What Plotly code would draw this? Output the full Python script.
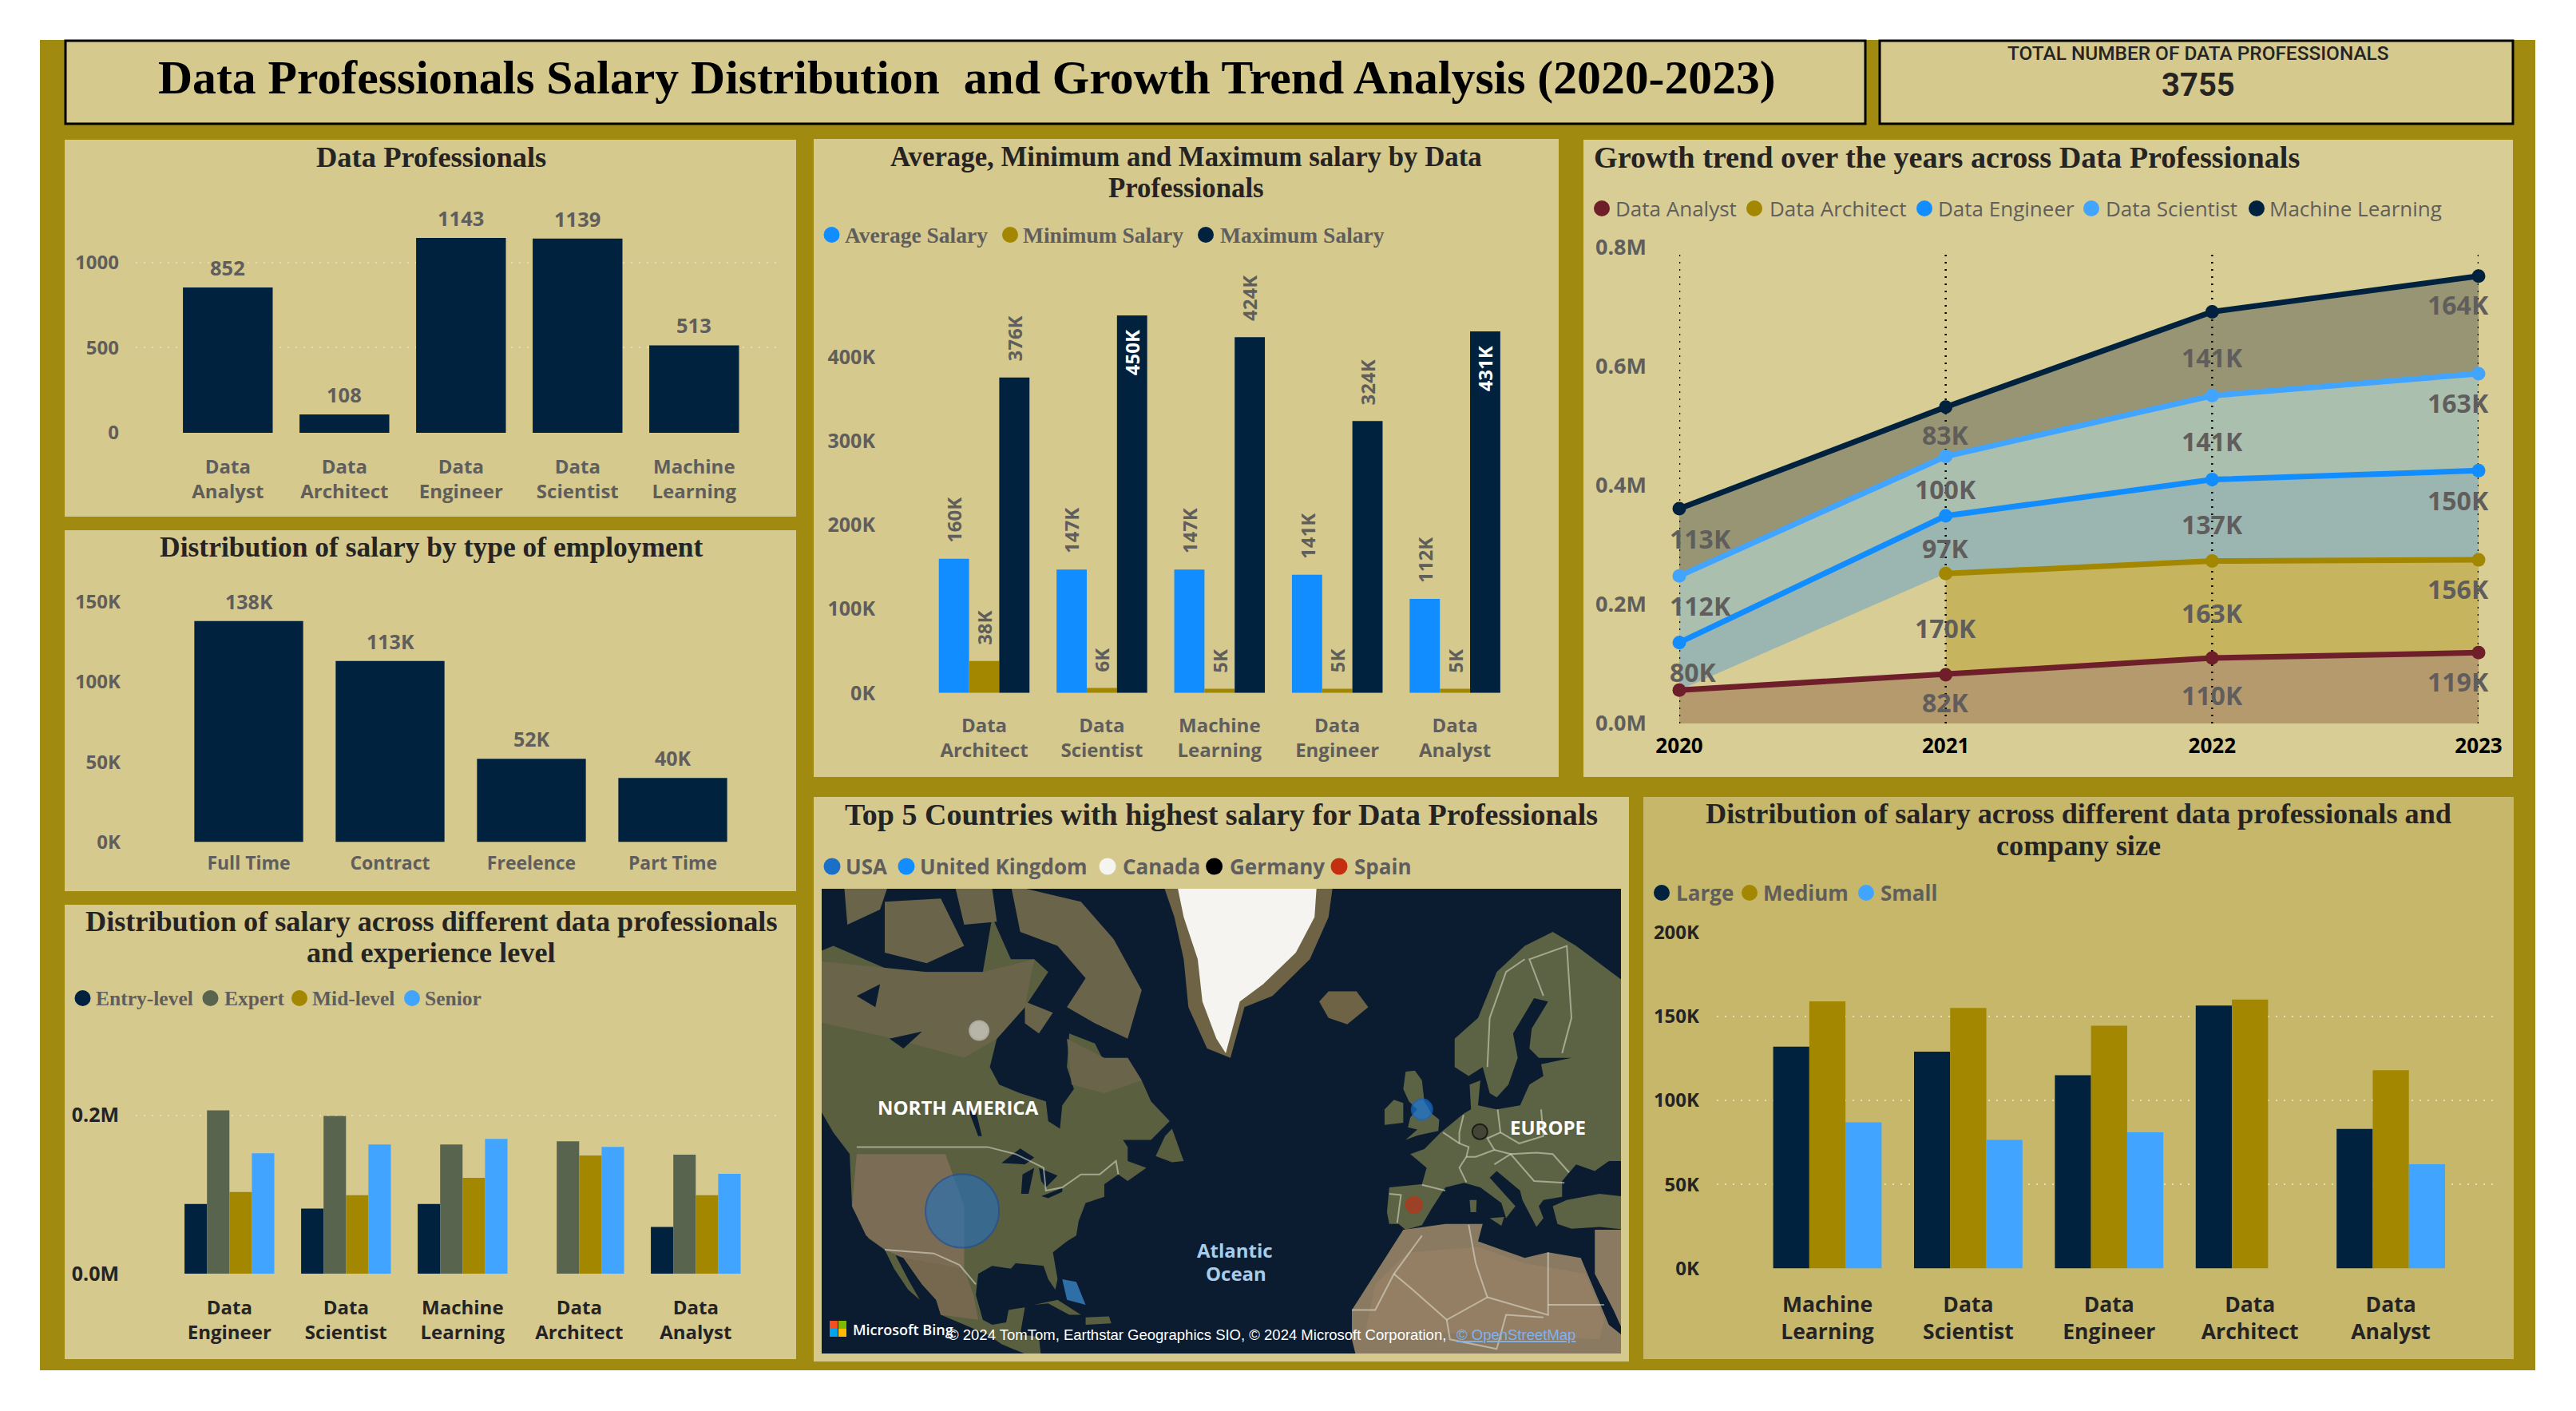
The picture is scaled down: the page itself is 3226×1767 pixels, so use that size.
import numpy as np
import plotly.graph_objects as go

W, H = 3226, 1767

# --- data ---
TITLE = "Data Professionals Salary Distribution  and Growth Trend Analysis (2020-2023)"
TOTAL_PROFESSIONALS = "3755"

ROLE_ORDER_1 = ["Data<br>Analyst", "Data<br>Architect", "Data<br>Engineer", "Data<br>Scientist", "Machine<br>Learning"]
ROLE_COUNTS = [852, 108, 1143, 1139, 513]

EMPLOYMENT = ["Full Time", "Contract", "Freelence", "Part Time"]
EMPLOYMENT_SALARY = [138000, 113000, 52000, 40000]

ROLE_ORDER_3 = ["Data<br>Engineer", "Data<br>Scientist", "Machine<br>Learning", "Data<br>Architect", "Data<br>Analyst"]
ENTRY_LEVEL = [88000, 82000, 88000, None, 59000]
EXPERT = [206000, 199000, 163000, 167000, 150000]
MID_LEVEL = [103000, 99000, 121000, 149000, 99000]
SENIOR = [152000, 163000, 170000, 160000, 126000]

ROLE_ORDER_4 = ["Data<br>Architect", "Data<br>Scientist", "Machine<br>Learning", "Data<br>Engineer", "Data<br>Analyst"]
AVG_SALARY = [160000, 147000, 147000, 141000, 112000]
MIN_SALARY = [38000, 6000, 5000, 5000, 5000]
MAX_SALARY = [376000, 450000, 424000, 324000, 431000]

YEARS = [2020, 2021, 2022, 2023]
GROWTH_ANALYST = [56000, 82000, 110000, 119000]
GROWTH_ARCHITECT = [None, 170000, 163000, 156000]
GROWTH_ENGINEER = [80000, 97000, 137000, 150000]
GROWTH_SCIENTIST = [112000, 100000, 141000, 163000]
GROWTH_ML = [113000, 83000, 141000, 164000]

ROLE_ORDER_7 = ["Machine<br>Learning", "Data<br>Scientist", "Data<br>Engineer", "Data<br>Architect", "Data<br>Analyst"]
LARGE = [132000, 129000, 115000, 156500, 83000]
MEDIUM = [159000, 155000, 144500, 160000, 118000]
SMALL = [87000, 76500, 81000, None, 62000]

COUNTRIES = ["USA", "United Kingdom", "Canada", "Germany", "Spain"]
COUNTRY_LON = [-100.4, -2.0, -96.8, 10.4, -3.7]
COUNTRY_LAT = [39.2, 54.0, 62.8, 51.1, 40.2]

# rough coastlines for the map backdrop, (lon, lat)
LAND_NORTH_AMERICA = [(-135, 69), (-128, 70), (-115, 68), (-108, 68), (-96, 68), (-94, 72), (-90, 69), (-85, 69),
                      (-82, 68), (-87, 65), (-93, 62), (-94.5, 59), (-92.5, 57), (-88, 56), (-82.5, 55), (-82, 52.5),
                      (-79.5, 51.5), (-79, 54.5), (-76.5, 56.5), (-78, 59), (-77.5, 62.5), (-72, 61.5), (-69, 58.5),
                      (-65, 60), (-62, 57.5), (-60, 55), (-56, 52.5), (-60, 50), (-66, 50), (-65, 49), (-65, 47),
                      (-61, 46), (-65, 44), (-67, 45), (-70, 43.5), (-70, 41.5), (-74, 40.5), (-75.5, 37.5), (-76, 35),
                      (-78, 34), (-81, 32), (-80, 27), (-80.5, 25), (-82, 27), (-83, 29.5), (-85, 29.7), (-89, 30),
                      (-90, 29), (-94, 29.5), (-97, 28), (-97.5, 24), (-96, 19), (-94, 18), (-91, 18.5), (-90.5, 21),
                      (-87, 21.5), (-88, 16), (-84, 15.5), (-83.5, 11), (-87, 11), (-87, 12), (-92, 14), (-95, 16),
                      (-105, 20), (-106, 23), (-109, 26), (-113, 31), (-114.7, 31.5), (-112, 27), (-109.5, 23),
                      (-112, 25), (-115, 29), (-117, 32.5), (-120.5, 34.5), (-124, 40), (-124.5, 48), (-128, 51),
                      (-135, 58)]
LAND_BAFFIN = [(-90, 74), (-75, 73), (-68, 70.5), (-62, 66.5), (-65, 62), (-72, 63.5), (-78, 65), (-74, 67.5), (-80, 70),
               (-88, 71)]
LAND_VICTORIA = [(-117, 73), (-105, 73.2), (-100, 70), (-108, 68.7), (-117, 69.5)]
LAND_BANKS = [(-126, 75), (-115, 75), (-118, 72.5), (-125, 71.5)]
LAND_PRINCE_WALES = [(-102, 74), (-94, 73.8), (-93, 71.7), (-100, 71.5)]
LAND_DEVON = [(-96, 76), (-80, 76), (-80, 74.8), (-92, 74.7)]
LAND_SOUTHAMPTON = [(-87, 65.5), (-81, 64.5), (-84, 62.5), (-87, 63.5)]
LAND_NEWFOUNDLAND = [(-59, 47.7), (-57, 50.5), (-55.5, 51.5), (-53, 47), (-55.5, 46.8)]
LAND_CUBA = [(-85, 22), (-80, 23), (-75, 20), (-77.5, 20), (-82, 22.3)]
LAND_HISPANIOLA = [(-74, 19.5), (-69, 19.7), (-68.5, 18.3), (-74, 18)]
SHALLOW_BAHAMAS = [(-79, 27), (-76, 26.5), (-74, 22), (-78, 23)]
LAND_GREENLAND = [(-60, 76), (-20, 76), (-22, 72), (-26, 69), (-34, 66), (-40, 65), (-43, 60), (-48, 61), (-52, 65),
                  (-53, 69), (-55, 72)]
ICE_GREENLAND = [(-56, 76), (-24, 76), (-25, 72), (-29, 69.5), (-36, 67), (-41, 65.5), (-44, 60.5), (-46, 62), (-49, 65.5),
                 (-50, 69), (-53, 72)]
LAND_ICELAND = [(-24, 65.5), (-22, 66.4), (-16, 66.4), (-13.5, 65), (-18, 63.4), (-22, 64)]
LAND_IRELAND = [(-10, 52), (-10, 54), (-8, 55.2), (-6, 54.8), (-6, 52.3)]
LAND_BRITAIN = [(-5.5, 50), (-3, 50.6), (1.5, 51.2), (1.7, 52.7), (0, 53.5), (-1.5, 55), (-2, 57.5), (-3.5, 58.6),
                (-5.5, 58.5), (-6, 56.5), (-4.8, 55), (-3, 54), (-4.5, 53), (-5, 51.7), (-3, 51.4)]
LAND_EUROPE = [(-9, 37), (-9.5, 39), (-9, 43), (-2, 43.5), (-1, 46), (-4.5, 48), (-1.5, 48.7), (2, 51), (4, 52), (7, 53.5),
               (8.5, 54), (8.2, 57), (10.5, 57.5), (10, 54.5), (14, 54), (19, 54.5), (21, 57), (24, 58), (23.5, 59.3),
               (30, 60), (23, 60), (21, 61), (21.5, 63), (25, 65.5), (22, 65.8), (17.5, 62.5), (18.5, 60), (16.5, 57),
               (14, 55.5), (12.5, 56), (11, 59), (8, 58), (5, 59), (5, 62), (10, 64), (14, 68), (20, 70), (26, 71),
               (31, 70), (42, 67), (42, 47), (38, 47), (35, 45.5), (31, 46.5), (28, 44), (28, 41.5), (24, 41), (23, 40),
               (24, 38), (22.5, 36.5), (19.5, 41), (19, 42.5), (14, 45.5), (12.5, 44.5), (18, 40), (16, 38), (15, 40.5),
               (10.5, 43), (7, 43.7), (3, 43), (0, 39.5), (-2, 36.8), (-5.5, 36), (-7, 37)]
LAND_ANATOLIA = [(26, 40), (29, 41), (36, 42), (42, 41.5), (42, 36), (36, 36.5), (30, 36.2), (27, 37)]
LAND_SARDINIA = [(8.2, 41), (9.7, 41), (9.6, 39), (8.4, 39)]
LAND_SICILY = [(12.5, 38), (15.6, 38.2), (15, 36.7)]
LAND_AFRICA = [(-6, 36), (-17, 21), (-17, 15), (-16, 11), (42, 11), (42, 15), (38, 18), (34, 27), (32.5, 30), (32, 31),
               (25, 32), (20, 31), (15, 32.5), (10, 34), (11, 37), (3, 37)]
LAND_ARABIA = [(43, 12.5), (39, 21), (35, 28), (35, 36), (42, 36), (42, 13)]
DRY_US_WEST = [(-123, 48), (-104, 48), (-100, 40), (-100, 29), (-106, 23), (-113, 31), (-117, 32.5), (-121, 35), (-124, 40)]
DRY_MEXICO = [(-113, 31), (-100, 29), (-98, 24), (-97, 19), (-105, 20), (-106, 23), (-109, 26)]
TUNDRA_CANADA = [(-135, 69), (-108, 68), (-96, 68), (-85, 69), (-87, 65), (-93, 62), (-100, 60), (-115, 62), (-135, 64)]
TUNDRA_QUEBEC = [(-78, 62), (-70, 60), (-65, 60), (-62, 57.5), (-70, 56), (-77, 57)]
SAHARA = [(-12, 26), (-5, 32), (10, 33), (20, 30), (33, 28), (37, 19), (36, 15), (10, 16), (-14, 17)]
LAKE_SUPERIOR = [(-92, 46.7), (-88, 48.8), (-85, 47.5), (-87, 46.5)]
LAKE_MICHIGAN = [(-87.8, 42), (-87.5, 45), (-85, 46), (-86.2, 42)]
LAKE_HURON = [(-84, 46), (-80, 44.8), (-82.5, 43), (-83.5, 44)]
LAKE_ERIE = [(-83.5, 41.6), (-79, 42.9), (-79, 42.3), (-82, 41.3)]
LAKE_WINNIPEG = [(-99, 53.8), (-97.5, 53.8), (-96.2, 50.5), (-97, 50.5)]
LAKE_BEAR = [(-123, 66), (-118, 67), (-119, 65)]
LAKE_SLAVE = [(-116, 62), (-109, 62.7), (-113, 61)]
BALTIC_GOTLAND = [(18, 57), (19, 57.8), (18.8, 57)]

# national borders that show up as pale lines on the satellite map
BORDERS = [
    [(-123, 49), (-95, 49), (-89, 48), (-83, 46), (-82.5, 42.5), (-79, 43), (-75, 45), (-71, 45), (-67.5, 47), (-67, 45)],
    [(-117, 32.5), (-106.5, 31.8), (-101, 29.7), (-97.5, 26)],
    [(-2, 43.4), (3, 42.5)],
    [(-9, 42), (-6.5, 41.8), (-7.3, 37.2)],
    [(2.5, 51), (6, 49.5), (8, 49), (7.5, 47.6), (6, 46), (7.5, 43.8)],
    [(6.9, 53.3), (6, 51), (6, 49.5)],
    [(14.2, 54), (14.8, 51), (12, 50.2), (13.5, 48.6), (9.5, 47.6), (7.5, 47.6)],
    [(14.8, 51), (18.8, 49.5), (24, 50.5), (23.5, 54)],
    [(13.5, 48.6), (17, 48), (22.5, 48.2), (26, 48), (29.5, 45.3)],
    [(13.5, 46.5), (17, 48), (22, 44), (28.5, 43.7)],
    [(12, 59), (12.5, 64), (16, 68), (20, 69)],
    [(24, 66), (21, 69), (29, 70), (30, 64), (28, 60.5)],
    [(-2, 35), (-8, 28), (-12, 21), (-17, 21)],
    [(-8, 28), (-4, 25), (3.3, 19), (12, 23.5), (9.5, 30), (8, 36.9)],
    [(12, 23.5), (25, 20), (25, 32)],
    [(25, 22), (37, 22)],
    [(3.3, 19), (4, 15), (14, 13), (16, 20), (24, 19.5)],
]

# axis labels
TICKS_COUNT = [0, 500, 1000]
TICKS_EMPLOYMENT = [0, 50000, 100000, 150000]
TICKS_EXPERIENCE = [0, 200000]
TICKS_AVG = [0, 100000, 200000, 300000, 400000]
TICKS_GROWTH = [0, 200000, 400000, 600000, 800000]
TICKS_COMPANY = [0, 50000, 100000, 150000, 200000]

# --- colours ---
GOLD_BG = "#A08A10"
PANEL = "#D5C98E"
PANEL_GROWTH = "#D8CD94"
PANEL_COMPANY = "#C6B76B"
NAVY = "#01223F"
OLIVE = "#A38700"
BLUE = "#118DFF"
SKY = "#41A4FF"
SLATE = "#59644E"
MAROON = "#6E1F2A"
GREY = "#605E5C"
INK = "#252423"

SERIF = "Liberation Serif"
SANS = "Open Sans"
ROBOTO = "Roboto"
ARIAL = "Liberation Sans"

fig = go.Figure()
shapes = []
notes = []


def fx(px):
    return px / W


def fy(px):
    return 1 - px / H


def panel(x0, y0, x1, y1, color, border=None):
    shapes.append(dict(type="rect", xref="paper", yref="paper", x0=fx(x0), x1=fx(x1), y0=fy(y0), y1=fy(y1),
                       fillcolor=color, layer="below",
                       line=dict(color=border or color, width=3 if border else 0)))


def text(x, y, s, size, color=INK, family=SANS, weight=400, anchor="center"):
    notes.append(dict(xref="paper", yref="paper", x=fx(x), y=fy(y), text=s, showarrow=False, xanchor=anchor,
                      yanchor="middle", font=dict(size=size, color=color, family=family, weight=weight)))


def legend(y, circles, starts, names, colors, size, family, weight=700, r=10):
    for cx, start, name, color in zip(circles, starts, names, colors):
        shapes.append(dict(type="circle", xref="paper", yref="paper", x0=fx(cx - r), x1=fx(cx + r),
                           y0=fy(y + r), y1=fy(y - r), fillcolor=color, line_width=0))
        text(start, y, name, size, GREY, family, weight, anchor="left")


def axes(n, x0, x1, y_base, y_top, xrange, ymax, tickvals, ticktext, xvals=None, xtext=None, xsize=25, xcolor=GREY,
         ysize=25, ycolor=GREY, grid=False, xstand=20, ystand=20):
    fig.layout[f"xaxis{n}"] = dict(domain=[fx(x0), fx(x1)], range=xrange, anchor=f"y{n}", showgrid=False, zeroline=False,
                                   tickmode="array", tickvals=xvals, ticktext=xtext, ticks="", showline=False,
                                   ticklabelstandoff=xstand, automargin=False,
                                   tickfont=dict(size=xsize, color=xcolor, family=SANS, weight=700))
    fig.layout[f"yaxis{n}"] = dict(domain=[fy(y_base), fy(y_top)], range=[0, ymax], anchor=f"x{n}", zeroline=False,
                                   showgrid=grid, gridcolor="#E3DDB8", griddash="2px 8px", gridwidth=2, showline=False,
                                   tickmode="array", tickvals=tickvals, ticktext=ticktext, ticks="",
                                   ticklabelstandoff=ystand, automargin=False,
                                   tickfont=dict(size=ysize, color=ycolor, family=SANS, weight=700))


def cat_range(x0, x1, first, step):
    return [(x0 - first) / step, (x1 - first) / step]


def bars(n, values, color, name):
    fig.add_trace(go.Bar(x=list(range(len(values))), y=values, name=name, xaxis=f"x{n}", yaxis=f"y{n}",
                         marker=dict(color=color, line_width=0), hoverinfo="skip"))


def short(v):
    return f"{v / 1000:.0f}K"


def mercator(lat):
    return np.log(np.tan(np.pi / 4 + np.radians(np.asarray(lat, dtype=float)) / 2))


# --- dashboard frame ---
panel(50, 50, 3175, 1716, GOLD_BG)
panel(82, 51, 2336, 155, PANEL, "#000000")
panel(2354, 51, 3147, 155, PANEL, "#000000")
panel(81, 175, 997, 647, PANEL)
panel(81, 664, 997, 1116, PANEL)
panel(81, 1133, 997, 1702, PANEL)
panel(1019, 174, 1952, 973, PANEL)
panel(1983, 175, 3147, 973, PANEL_GROWTH)
panel(1019, 998, 2040, 1705, PANEL)
panel(2058, 998, 3148, 1702, PANEL_COMPANY)
panel(1029, 1113, 2030, 1695, "#0B1C30")

text(1211, 97, TITLE, 59.7, "#000000", SERIF, 700)
text(2753, 66, "TOTAL NUMBER OF DATA PROFESSIONALS", 24.4, INK, ROBOTO, 500)
text(2753, 106, TOTAL_PROFESSIONALS, 40, INK, ROBOTO, 700)

# --- panel 1: head count ---
text(540, 196, "Data Professionals", 36.5, INK, SERIF, 700)
axes(1, 170, 976, 542, 542 - 1200 * 0.2135, cat_range(170, 976, 287, 146), 1200,
     TICKS_COUNT, [str(t) for t in TICKS_COUNT], list(range(5)), ROLE_ORDER_1, grid=True, xstand=26, xsize=24, ysize=24)
bars(1, ROLE_COUNTS, NAVY, "Count")
fig.layout.xaxis1.range = cat_range(170, 976, 285.3, 146)
for i, v in enumerate(ROLE_COUNTS):
    notes.append(dict(xref="x1", yref="y1", x=i, y=v, yshift=25, text=str(v), showarrow=False, yanchor="middle",
                      font=dict(size=25.5, color=GREY, family=SANS, weight=700)))

# --- panel 2: employment type ---
text(540, 685, "Distribution of salary by type of employment", 35.5, INK, SERIF, 700)
axes(2, 160, 976, 1054.6, 1054.6 - 150 * 2.007, cat_range(160, 976, 311.5, 177), 150000,
     TICKS_EMPLOYMENT, [short(t) for t in TICKS_EMPLOYMENT], list(range(4)), EMPLOYMENT, xsize=23, ysize=24, xstand=10,
     ystand=8)
bars(2, EMPLOYMENT_SALARY, NAVY, "Salary")
for i, v in enumerate(EMPLOYMENT_SALARY):
    notes.append(dict(xref="x2", yref="y2", x=i, y=v, yshift=25, text=short(v), showarrow=False, yanchor="middle",
                      font=dict(size=25, color=GREY, family=SANS, weight=700)))

# --- panel 3: experience level ---
text(540, 1154, "Distribution of salary across different data professionals", 36.2, INK, SERIF, 700)
text(540, 1193, "and experience level", 36.2, INK, SERIF, 700)
legend(1250, [103.5, 263.5, 375, 516], [118, 278.5, 389, 530], ["Entry-level", "Expert", "Mid-level", "Senior"],
       [NAVY, SLATE, OLIVE, SKY], 25.5, SERIF)
axes(3, 170, 976, 1595, 1595 - 220 * 0.9925, cat_range(170, 976, 287.3, 146), 220000,
     TICKS_EXPERIENCE, [f"{t / 1e6:.1f}M" for t in TICKS_EXPERIENCE], list(range(5)), ROLE_ORDER_3,
     xcolor=INK, ycolor=INK, xsize=24, ysize=25, grid=True, xstand=26)
for values, color, name in zip([ENTRY_LEVEL, EXPERT, MID_LEVEL, SENIOR], [NAVY, SLATE, OLIVE, SKY],
                               ["Entry-level", "Expert", "Mid-level", "Senior"]):
    bars(3, values, color, name)

# --- panel 4: avg / min / max ---
text(1485, 196, "Average, Minimum and Maximum salary by Data", 34.8, INK, SERIF, 700)
text(1485, 235, "Professionals", 34.8, INK, SERIF, 700)
legend(294, [1041.5, 1265, 1510], [1056, 1279, 1526], ["Average Salary", "Minimum Salary", "Maximum Salary"],
       [BLUE, OLIVE, NAVY], 27.5, SERIF)
axes(4, 1110, 1935, 867.8, 867.8 - 480 * 1.0507, cat_range(1110, 1935, 1232.5, 147.4), 480000,
     TICKS_AVG, [short(t) for t in TICKS_AVG], list(range(5)), ROLE_ORDER_4, ystand=13, xstand=24, xsize=24, ysize=25)
group_w = (1 - 0.23) / 3
for j, (values, color, name) in enumerate(zip([AVG_SALARY, MIN_SALARY, MAX_SALARY], [BLUE, OLIVE, NAVY],
                                              ["Average Salary", "Minimum Salary", "Maximum Salary"])):
    bars(4, values, color, name)
    for i, v in enumerate(values):
        inside = v >= 430000
        notes.append(dict(xref="x4", yref="y4", x=i + (j - 1) * group_w, y=v, yshift=-16 if inside else 18,
                          yanchor="top" if inside else "bottom", text=short(v), showarrow=False, textangle=-90,
                          font=dict(size=24, color="#FFFFFF" if inside else GREY, family=SANS, weight=700)))

# --- panel 5: stacked growth ---
text(1994, 197, "Growth trend over the years across Data Professionals", 38.2, INK, SERIF, 700, anchor="left")
growth_names = ["Data Analyst", "Data Architect", "Data Engineer", "Data Scientist", "Machine Learning"]
growth_series = [GROWTH_ANALYST, GROWTH_ARCHITECT, GROWTH_ENGINEER, GROWTH_SCIENTIST, GROWTH_ML]
growth_lines = [MAROON, OLIVE, BLUE, SKY, NAVY]
growth_fills = ["#B59A6E", "#C6B55E", "#9BB6B0", "#ABBFAF", "#989574"]
# label drop below the top of each band, px
growth_drops = [[0, 35, 46, 36], [0, 68, 65, 36], [37, 41, 56, 37], [37, 41, 57, 37], [37, 35, 57, 36]]
legend(261, [2006, 2197, 2410, 2619, 2826], [2021, 2213.5, 2425, 2635, 2840], growth_names, growth_lines, 26, SANS, 400)
axes(5, 2103, 3104, 906, 310, [2020, 2023], 800000, TICKS_GROWTH, [f"{t / 1e6:.1f}M" for t in TICKS_GROWTH],
     YEARS, [str(y) for y in YEARS], xcolor="#000000", xsize=26, ysize=27, ystand=40, xstand=10)

stack = np.zeros(len(YEARS))
for k, series in enumerate(growth_series):
    values = np.array([np.nan if v is None else v for v in series], dtype=float)
    lower = stack.copy()
    upper = lower + np.nan_to_num(values)
    keep = ~np.isnan(values)
    xs = np.array(YEARS)[keep]
    fig.add_trace(go.Scatter(x=np.r_[xs, xs[::-1]], y=np.r_[upper[keep], lower[keep][::-1]], fill="toself",
                             fillcolor=growth_fills[k], mode="lines", line_width=0, xaxis="x5", yaxis="y5",
                             hoverinfo="skip"))
    stack = upper

# dotted year guides sit on top of the bands
for year in YEARS:
    fig.add_trace(go.Scatter(x=[year, year], y=[0, 788000], mode="lines", cliponaxis=False, xaxis="x5", yaxis="y5",
                             line=dict(color="#000000", width=2.5, dash="2px 7px"), hoverinfo="skip"))

stack = np.zeros(len(YEARS))
for k, series in enumerate(growth_series):
    values = np.array([np.nan if v is None else v for v in series], dtype=float)
    upper = stack + np.nan_to_num(values)
    keep = ~np.isnan(values)
    fig.add_trace(go.Scatter(x=np.array(YEARS)[keep], y=upper[keep], mode="lines+markers", cliponaxis=False,
                             line=dict(color=growth_lines[k], width=7), marker=dict(size=17, color=growth_lines[k]),
                             xaxis="x5", yaxis="y5", name=growth_names[k], hoverinfo="skip"))
    for i, year in enumerate(YEARS):
        # Analyst 2020 has no label in the dashboard
        if np.isnan(values[i]) or growth_drops[k][i] == 0:
            continue
        anchor, shift = {0: ("left", -14), 3: ("right", 15)}.get(i, ("center", 0))
        notes.append(dict(xref="x5", yref="y5", x=year, y=upper[i], yshift=-growth_drops[k][i], xshift=shift,
                          xanchor=anchor, yanchor="middle", text=short(values[i]), showarrow=False,
                          font=dict(size=32, color=GREY, family=SANS, weight=700)))
    stack = upper

# --- panel 6: map ---
text(1529, 1020, "Top 5 Countries with highest salary for Data Professionals", 38, INK, SERIF, 700)
legend(1085, [1042, 1135, 1387, 1520.6, 1677], [1057, 1150, 1404, 1537.5, 1694], COUNTRIES,
       ["#1A6FC9", BLUE, "#F4F4F0", "#000000", "#C4300F"], 26, SANS, 700, r=10.5)
fig.layout.xaxis6 = dict(domain=[fx(1029), fx(2030)], range=[-130.5, 40.6], anchor="y6", visible=False, automargin=False)
fig.layout.yaxis6 = dict(domain=[fy(1695), fy(1113)], range=[0.212, 1.949], anchor="x6", visible=False, automargin=False)

map_layers = [
    ("#5A5F40", [LAND_NORTH_AMERICA, LAND_NEWFOUNDLAND, LAND_CUBA, LAND_HISPANIOLA]),
    ("#6A644A", [TUNDRA_CANADA, TUNDRA_QUEBEC, LAND_BAFFIN, LAND_VICTORIA, LAND_BANKS, LAND_DEVON, LAND_PRINCE_WALES,
                 LAND_SOUTHAMPTON]),
    ("#7B6D55", [DRY_US_WEST]),
    ("#75684E", [DRY_MEXICO]),
    ("#6E6345", [LAND_GREENLAND, LAND_ICELAND]),
    ("#F6F4F0", [ICE_GREENLAND]),
    ("#5C6244", [LAND_IRELAND, LAND_BRITAIN, LAND_EUROPE, LAND_ANATOLIA, LAND_SARDINIA, LAND_SICILY]),
    ("#8A7A62", [LAND_AFRICA, LAND_ARABIA]),
    ("#957F64", [SAHARA]),
    ("#2E6FA8", [SHALLOW_BAHAMAS]),
    ("#0B1C30", [LAKE_SUPERIOR, LAKE_MICHIGAN, LAKE_HURON, LAKE_ERIE, LAKE_WINNIPEG, LAKE_BEAR, LAKE_SLAVE, BALTIC_GOTLAND]),
]
for color, polys in map_layers:
    for poly in polys:
        lons, lats = zip(*poly)
        fig.add_trace(go.Scatter(x=list(lons) + [lons[0]], y=mercator(list(lats) + [lats[0]]), fill="toself",
                                 fillcolor=color, mode="lines", line_width=0, xaxis="x6", yaxis="y6", hoverinfo="skip"))

for border in BORDERS:
    lons, lats = zip(*border)
    fig.add_trace(go.Scatter(x=lons, y=mercator(lats), mode="lines", xaxis="x6", yaxis="y6", hoverinfo="skip",
                             line=dict(color="rgba(225,225,210,0.55)", width=2)))

fig.add_trace(go.Scatter(x=COUNTRY_LON, y=mercator(COUNTRY_LAT), mode="markers", xaxis="x6", yaxis="y6", hoverinfo="skip",
                         marker=dict(size=[92, 26, 24, 19, 20],
                                     color=["#2C70B0", "#1A78D8", "#D8D8D0", "#3A3A32", "#B8341C"],
                                     line=dict(color=["#1B4FA0", "#1B66C0", "#C8C8C0", "#000000", "#C4300F"], width=2))))

text(1200, 1386, "NORTH AMERICA", 24, "#FFFFFF", SANS, 700)
text(1938.5, 1411, "EUROPE", 24, "#FFFFFF", SANS, 700)
text(1546, 1565, "Atlantic", 24, "#A9CDE8", SANS, 700)
text(1548, 1594, "Ocean", 24, "#A9CDE8", SANS, 700)
text(1066, 1665, "Microsoft Bing", 18, "#FFFFFF", SANS, 600, anchor="left")
text(1184.5, 1671, "© 2024 TomTom, Earthstar Geographics SIO, © 2024 Microsoft Corporation,", 18.5, "#FFFFFF", ARIAL,
     400, anchor="left")
text(1822, 1671, "<u>© OpenStreetMap</u>", 18.5, "#7FB2F0", ARIAL, 400, anchor="left")
for (lx, ly), color in zip([(1039, 1654), (1050, 1654), (1039, 1664), (1050, 1664)],
                           ["#F25022", "#7FBA00", "#00A4EF", "#FFB900"]):
    shapes.append(dict(type="rect", xref="paper", yref="paper", x0=fx(lx), x1=fx(lx + 10), y0=fy(ly + 10), y1=fy(ly),
                       fillcolor=color, line_width=0))

# --- panel 7: company size ---
text(2603, 1019, "Distribution of salary across different data professionals and", 36.2, INK, SERIF, 700)
text(2603, 1059, "company size", 36.2, INK, SERIF, 700)
legend(1118, [2081, 2191, 2337], [2097, 2206, 2353], ["Large", "Medium", "Small"], [NAVY, OLIVE, SKY], 26, SANS, 700)
axes(7, 2150, 3128, 1588.4, 1167.7, cat_range(2150, 3128, 2288.5, 176.4), 200000,
     TICKS_COMPANY, [short(t) for t in TICKS_COMPANY], list(range(5)), ROLE_ORDER_7,
     xcolor=INK, ycolor=INK, xsize=26.5, ysize=24, grid=True, xstand=27, ystand=21)
for values, color, name in zip([LARGE, MEDIUM, SMALL], [NAVY, OLIVE, SKY], ["Large", "Medium", "Small"]):
    bars(7, values, color, name)

fig.update_layout(width=W, height=H, margin=dict(l=0, r=0, t=0, b=0), autosize=False, showlegend=False,
                  paper_bgcolor="#FFFFFF", plot_bgcolor="rgba(0,0,0,0)", barmode="group", bargap=0.23, bargroupgap=0,
                  hovermode=False, shapes=shapes, annotations=notes)

fig.write_html("out.html", post_script="document.body.style.margin='0';", config=dict(displayModeBar=False))
